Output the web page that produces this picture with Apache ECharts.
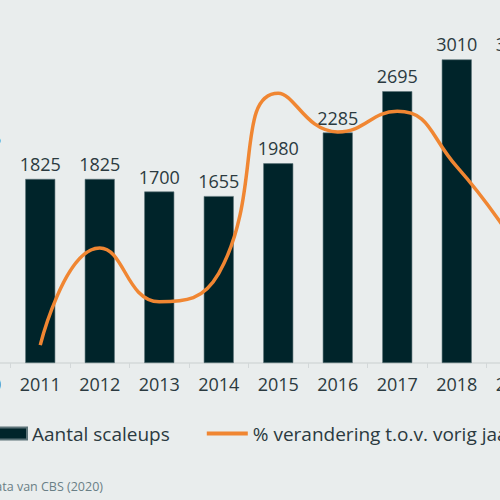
<!DOCTYPE html>
<html>
<head>
<meta charset="utf-8">
<script src="https://cdn.jsdelivr.net/npm/echarts@6/dist/echarts.min.js"></script>
<style>
  html, body { margin: 0; padding: 0; background: #e9eded; overflow: hidden; width: 500px; height: 500px; }
  /* the reference is a crop of a wider chart, so the canvas sticks out on both sides */
  #main { position: absolute; left: -49px; top: 0; width: 595px; height: 500px; }
</style>
</head>
<body>
<div id="main"></div>
<script>
const years = ["2010", "2011", "2012", "2013", "2014", "2015", "2016", "2017", "2018", "2019"];
const scaleups = [2085, 1825, 1825, 1700, 1655, 1980, 2285, 2695, 3010, 3015];
const changePct = [null, -12.3, 0, -6.8, -3.2, 19.6, 14.7, 17.3, 10.3, 0.3];
const sourceText = "Bron: bewerking o.b.v. data van CBS (2020)";

const font = "Open Sans";
const textColor = "#2b3a40";
const offset = 49;

const chart = echarts.init(document.getElementById("main"), null, { renderer: "svg" });
chart.setOption({
  backgroundColor: "#e9eded",
  animation: false,
  textStyle: { fontFamily: font },
  grid: { left: 0, right: 0, top: 10, bottom: 137 },
  legend: {
    left: offset - 15,
    top: 424,
    padding: 0,
    itemWidth: 41,
    itemHeight: 12,
    itemGap: 37,
    textStyle: { fontFamily: font, fontSize: 19, color: textColor },
    data: [
      { name: "Aantal scaleups", icon: "rect" },
      { name: "% verandering t.o.v. vorig jaar", icon: "path://M0,0 H41 V4 H0 Z" }
    ]
  },
  xAxis: [
    {
      type: "category",
      data: years,
      axisLine: { lineStyle: { color: "#d3d8d9", width: 1.5 } },
      axisTick: { show: true, length: 5, lineStyle: { color: "#d3d8d9" } },
      axisLabel: { interval: 0, fontSize: 18, color: textColor, margin: 12, fontFamily: font }
    },
    {
      // second axis only for the small ticks under each bar
      type: "category",
      data: years,
      position: "bottom",
      axisLine: { show: false },
      axisTick: { show: true, alignWithLabel: true, length: 3, lineStyle: { color: "#d3d8d9" } },
      axisLabel: { show: false }
    }
  ],
  yAxis: [
    { type: "value", min: 0, max: 3500, show: false, splitLine: { show: false } },
    { type: "value", min: -14.56, max: 30.13, show: false, splitLine: { show: false } }
  ],
  series: [
    {
      name: "Aantal scaleups",
      type: "bar",
      data: scaleups,
      barWidth: 30,
      itemStyle: { color: "#00242a", borderColor: "#5c7378", borderWidth: 0.6 },
      label: {
        show: true,
        position: "top",
        distance: 6,
        fontSize: 18,
        color: textColor,
        fontFamily: font
      }
    },
    {
      name: "% verandering t.o.v. vorig jaar",
      type: "line",
      yAxisIndex: 1,
      data: changePct,
      smooth: true,
      symbol: "none",
      lineStyle: { color: "#f08632", width: 3.5 },
      itemStyle: { color: "#f08632" },
      z: 5
    }
  ],
  graphic: [
    {
      type: "text",
      right: 595 - offset - 103,
      top: 480,
      style: { text: sourceText, fontFamily: font, fontSize: 12.5, fill: "#6a7f86" }
    }
  ]
});
</script>
</body>
</html>
